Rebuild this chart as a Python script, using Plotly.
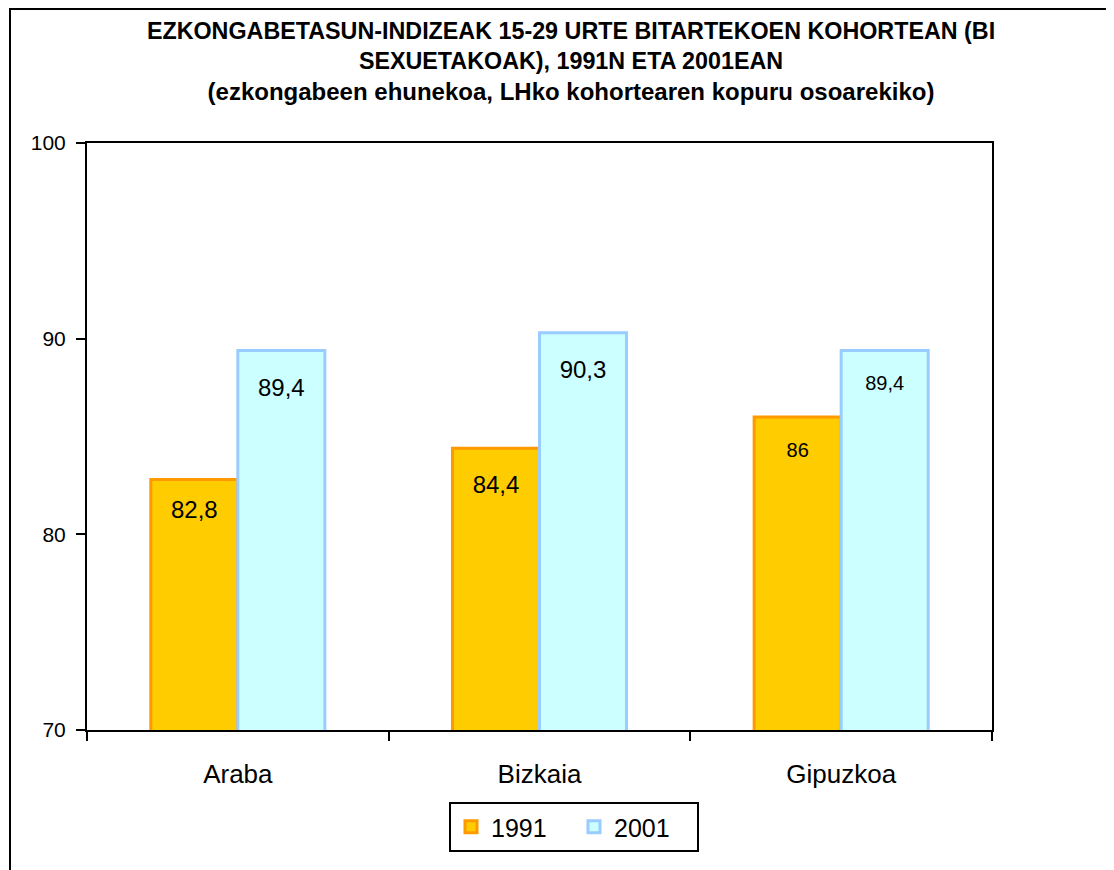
import plotly.graph_objects as go

categories = ["Araba", "Bizkaia", "Gipuzkoa"]
years = ["1991", "2001"]
values_1991 = [82.8, 84.4, 86]
values_2001 = [89.4, 90.3, 89.4]
y_ticks = [70, 80, 90, 100]

title_lines = [
    "EZKONGABETASUN-INDIZEAK 15-29 URTE BITARTEKOEN KOHORTEAN (BI",
    "SEXUETAKOAK), 1991N ETA 2001EAN",
    "<span style='font-size:24px'>(ezkongabeen ehunekoa, LHko kohortearen kopuru osoarekiko)</span>",
]

FONT = "Arial, Liberation Sans, sans-serif"


def fmt(v):
    return f"{v:g}".replace(".", ",")


def lbl(v, pad_px):
    if pad_px:
        return f"<span style='font-size:{pad_px}px'>&nbsp;</span><br>" + fmt(v)
    return "<span style='font-size:18px'>&nbsp;</span>" + fmt(v) + "<span style='font-size:18px'>&nbsp;</span>"


label_sizes = [24, 24, 20]
pads_1991 = [4, 12, 12]
pads_2001 = [12, 12, 12]

# page body has an 8px margin: work in screen coordinates minus 8
OFF = 8
W, H = 1114 - OFF, 870 - OFF
L, R, T, B = 87 - OFF, 992 - OFF, 143 - OFF, 730 - OFF
pw, ph = R - L, B - T

fig = go.Figure()
fig.add_trace(go.Bar(
    name=years[0], x=categories, y=values_1991,
    marker=dict(color="#FFCC00", line=dict(color="#FF9900", width=3)),
    text=[lbl(v, p) for v, p in zip(values_1991, pads_1991)],
    textposition="inside", insidetextanchor="end", textangle=0,
    textfont=dict(family=FONT, color="black", size=label_sizes),
    hoverinfo="skip",
))
fig.add_trace(go.Bar(
    name=years[1], x=categories, y=values_2001,
    marker=dict(color="#CCFFFF", line=dict(color="#99CCFF", width=3)),
    text=[lbl(v, p) for v, p in zip(values_2001, pads_2001)],
    textposition="inside", insidetextanchor="end", textangle=0,
    textfont=dict(family=FONT, color="black", size=label_sizes),
    hoverinfo="skip",
))

fig.update_layout(
    width=W, height=H,
    margin=dict(l=L, r=W - R, t=T, b=H - B, autoexpand=False),
    paper_bgcolor="white", plot_bgcolor="white",
    barmode="group", bargap=0.423, bargroupgap=0,
    font=dict(family=FONT, color="black"),
    title=dict(
        text="<br>".join(title_lines),
        font=dict(family=FONT, size=23.3, color="black", weight="bold"),
        x=(571 - OFF) / W, xanchor="center", xref="container",
        y=1 - (39 - OFF) / H, yanchor="top", yref="container",
    ),
    showlegend=True,
    legend=dict(
        orientation="h",
        x=(574 - 87) / pw, xanchor="center",
        y=(730 - 802) / ph, yanchor="top",
        font=dict(family=FONT, size=25, color="black"),
        bordercolor="black", borderwidth=2, bgcolor="white",
        traceorder="normal",
        entrywidth=78, entrywidthmode="pixels",
    ),
    shapes=[dict(
        type="rect", xref="paper", yref="paper",
        x0=(10 - 87) / pw, x1=1.3,
        y0=-0.5, y1=(B - 1) / ph,
        line=dict(color="black", width=2), fillcolor="rgba(0,0,0,0)",
        layer="below",
    )],
)

fig.update_yaxes(
    range=[70, 100], tickvals=y_ticks, ticktext=[str(t) for t in y_ticks],
    showgrid=False, zeroline=False,
    showline=True, linecolor="black", linewidth=2, mirror=True,
    ticks="outside", ticklen=9, tickwidth=2, tickcolor="black",
    tickfont=dict(family=FONT, size=21, color="black"),
    ticklabelstandoff=6,
)
fig.update_xaxes(
    showgrid=False, zeroline=False,
    showline=True, linecolor="black", linewidth=2, mirror=True,
    ticks="outside", tickson="boundaries", ticklen=9, tickwidth=2, tickcolor="black",
    tickfont=dict(family=FONT, size=26, color="black"),
    ticklabelstandoff=20,
)

fig.write_html("out.html")
